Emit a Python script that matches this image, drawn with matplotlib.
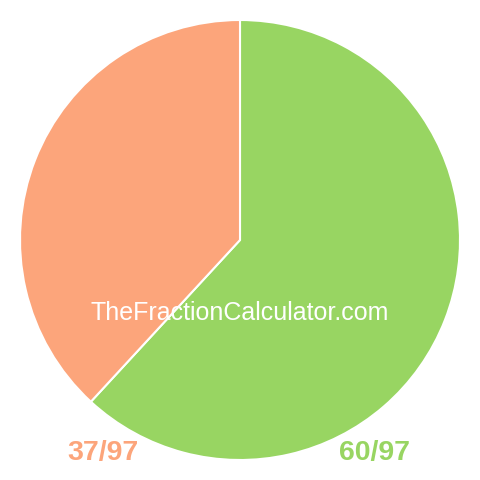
import matplotlib
matplotlib.use('Agg')
import matplotlib.pyplot as plt

labels = ['60/97', '37/97']
values = [60, 37]
colors = ['#98d562', '#fca57b']

fig = plt.figure(figsize=(4.8, 4.8), dpi=100)
ax = fig.add_axes([0, 0, 1, 1])
ax.pie(values, colors=colors, startangle=90, counterclock=False, radius=220,
       center=(0, 0), wedgeprops=dict(edgecolor='white', linewidth=1.5))
ax.set_xlim(-240, 240)
ax.set_ylim(-240, 240)
ax.set_aspect('equal')
ax.axis('off')

ax.text(0, -80, 'TheFractionCalculator.com', color='white', fontsize=18,
        family='Liberation Sans', ha='center', va='baseline')
ax.text(-137, -220, labels[1], color=colors[1], fontsize=20.5, fontweight='bold',
        family='Liberation Sans', ha='center', va='baseline')
ax.text(135, -220, labels[0], color=colors[0], fontsize=20.5, fontweight='bold',
        family='Liberation Sans', ha='center', va='baseline')

fig.savefig('out.png', dpi=100)
